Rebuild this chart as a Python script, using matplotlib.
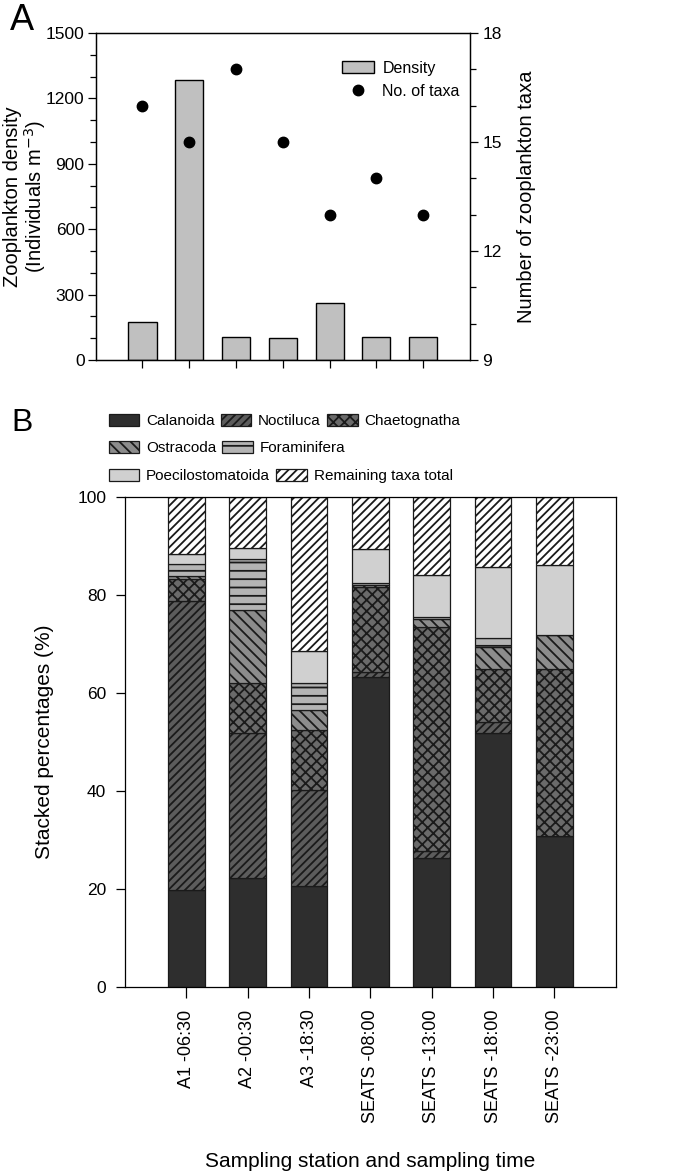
import numpy as np
import matplotlib
matplotlib.use('Agg')
import matplotlib.pyplot as plt
from matplotlib import font_manager
from matplotlib.ticker import MultipleLocator

# ---------------- data ----------------
stations = ['A1 -06:30', 'A2 -00:30', 'A3 -18:30', 'SEATS -08:00',
            'SEATS -13:00', 'SEATS -18:00', 'SEATS -23:00']
density = [176, 1284, 105, 102, 263, 105, 105]          # individuals m^-3
n_taxa = [16, 15, 17, 15, 13, 14, 13]

taxa_names = ['Calanoida', 'Noctiluca', 'Chaetognatha', 'Ostracoda',
              'Foraminifera', 'Poecilostomatoida', 'Remaining taxa total']
calanoida = [19.9, 22.3, 20.6, 63.3, 26.3, 51.9, 30.9]
noctiluca = [58.8, 29.5, 19.7, 1.0, 1.5, 2.2, 0.0]
chaetognatha = [4.6, 10.2, 12.2, 17.3, 45.7, 10.7, 33.9]
ostracoda = [0.6, 15.0, 4.1, 0.5, 1.5, 4.5, 7.0]
foraminifera = [2.4, 10.4, 5.5, 0.4, 0.4, 1.8, 0.0]
poecilostomatoida = [2.0, 2.1, 6.5, 6.8, 8.6, 14.6, 14.3]
remaining = [11.7, 10.5, 31.4, 10.7, 16.0, 14.3, 13.9]

# ---------------- styling ----------------
available = {f.name for f in font_manager.fontManager.ttflist}
if 'Liberation Sans Narrow' in available:
    NARROW, NSIZE = 'Liberation Sans Narrow', 12.5
else:
    NARROW, NSIZE = 'Liberation Sans', 11

plt.rcParams['font.family'] = ['Liberation Sans', 'DejaVu Sans']
plt.rcParams['hatch.linewidth'] = 1.3
plt.rcParams['axes.linewidth'] = 0.9

styles = [
    dict(color='#2e2e2e', hatch=None),
    dict(color='#5c5c5c', hatch='////'),
    dict(color='#6a6a6a', hatch='xxx'),
    dict(color='#8c8c8c', hatch='\\\\\\'),
    dict(color='#b4b4b4', hatch='--'),
    dict(color='#d0d0d0', hatch=None),
    dict(color='#ffffff', hatch='////'),
]

W, H = 685, 1172
fig = plt.figure(figsize=(W / 100, H / 100), dpi=100)

# ---------------- panel A ----------------
axA = fig.add_axes([95.7 / W, 1 - 360 / H, 374.3 / W, 327 / H])
x = np.arange(len(stations))
bars = axA.bar(x, density, width=0.6, color='#c0c0c0', edgecolor='black',
               linewidth=1.0, zorder=2, label='Density')
axA.set_xlim(-1, 7)
axA.set_ylim(0, 1500)
axA.set_yticks(np.arange(0, 1501, 300))
axA.yaxis.set_minor_locator(MultipleLocator(100))
axA.set_xticks(x)
axA.set_xticklabels([])
axA.tick_params(axis='both', which='major', direction='out', length=6,
                width=0.9, labelsize=12.5, pad=2)
axA.tick_params(axis='y', which='minor', direction='out', length=4, width=0.9)
axA.set_ylabel('Zooplankton density\n(Individuals m$^{-3}$)', fontsize=14.5,
               linespacing=1.0)
axA.yaxis.set_label_coords(-0.188, 0.5)
axA.yaxis.label.set_va('center')

ax2 = axA.twinx()
pts, = ax2.plot(x, n_taxa, 'o', color='black', ms=7.5, label='No. of taxa',
                zorder=3)
ax2.set_ylim(9, 18)
ax2.set_yticks([9, 12, 15, 18])
ax2.yaxis.set_minor_locator(MultipleLocator(1))
ax2.tick_params(axis='y', which='major', direction='out', length=6,
                width=0.9, labelsize=12.5, pad=3)
ax2.tick_params(axis='y', which='minor', direction='out', length=4, width=0.9)
ax2.set_ylabel('Number of zooplankton taxa', fontsize=14.5, rotation=90)
ax2.yaxis.set_label_coords(1.15, 0.5)
ax2.yaxis.label.set_va('center')

ax2.legend(handles=[bars, pts], loc='upper left', bbox_to_anchor=(0.638, 0.94),
           frameon=False, borderpad=0, handlelength=2.0, handleheight=0.85,
           handletextpad=0.5, labelspacing=0.55,
           prop={'family': NARROW, 'size': NSIZE + 0.5})

fig.text(10 / W, 1 - 3 / H, 'A', fontsize=26, va='top', ha='left')

# ---------------- panel B ----------------
axB = fig.add_axes([125 / W, 1 - 987.3 / H, 490.7 / W, 490.6 / H])
series = [calanoida, noctiluca, chaetognatha, ostracoda, foraminifera,
          poecilostomatoida, remaining]
bottom = np.zeros(len(stations))
handles = []
for name, vals, st in zip(taxa_names, series, styles):
    b = axB.bar(x, vals, bottom=bottom, width=0.6, color=st['color'],
                hatch=st['hatch'], edgecolor='#1a1a1a', linewidth=0.9,
                label=name, zorder=2)
    handles.append(b)
    bottom = bottom + np.array(vals)

axB.set_xlim(-1, 7)
axB.set_ylim(0, 100)
axB.set_yticks(np.arange(0, 101, 20))
axB.set_xticks(x)
axB.set_xticklabels(stations, rotation=90, fontsize=13)
axB.tick_params(axis='x', direction='out', length=8, width=0.9, pad=8)
axB.tick_params(axis='y', direction='out', length=6.5, width=0.9,
                labelsize=12.5, pad=7)
axB.set_ylabel('Stacked percentages (%)', fontsize=15)
axB.yaxis.set_label_coords(-0.165, 0.5)
axB.yaxis.label.set_va('center')
axB.set_xlabel('Sampling station and sampling time', fontsize=15)
axB.xaxis.set_label_coords(0.5, -0.356)
axB.xaxis.label.set_va('center')

rows = [(handles[0:3], 420.7), (handles[3:5], 448.0), (handles[5:7], 476.0)]
for hs, ypix in rows:
    fig.legend(handles=hs, labels=[h.get_label() for h in hs],
               loc='center left', bbox_to_anchor=(101 / W, 1 - ypix / H),
               ncol=len(hs), frameon=False, borderpad=0, handlelength=2.0,
               handleheight=0.85, handletextpad=0.45, columnspacing=0.4,
               prop={'family': NARROW, 'size': NSIZE})

fig.text(11 / W, 1 - 408 / H, 'B', fontsize=23, va='top', ha='left')

fig.savefig('out.png', dpi=100)
